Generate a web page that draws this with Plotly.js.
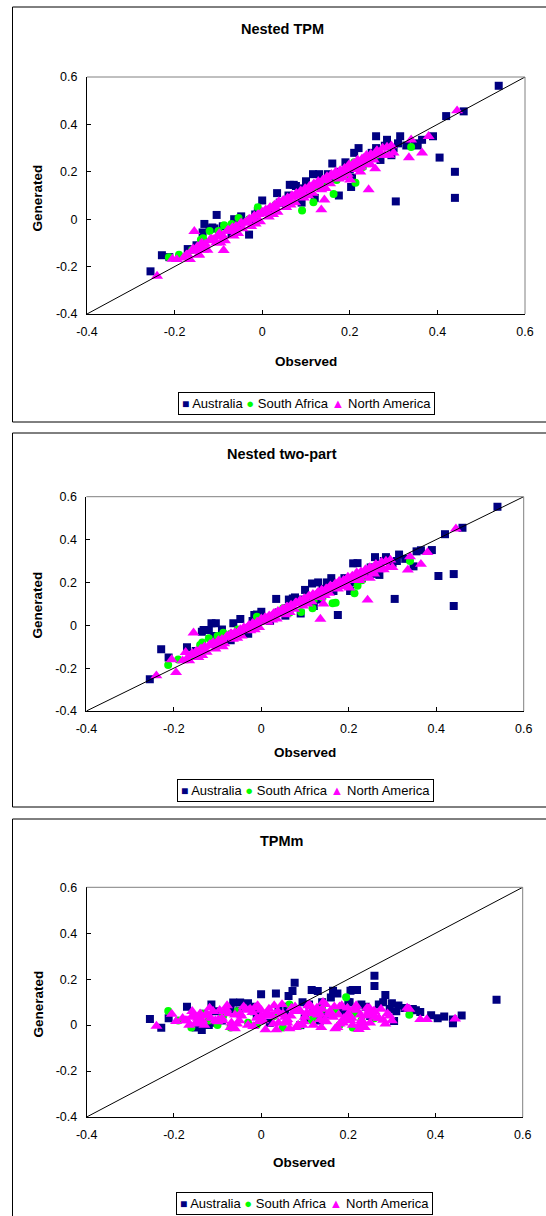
<!DOCTYPE html>
<html><head><meta charset="utf-8">
<script src="https://cdn.plot.ly/plotly-3.0.1.min.js"></script>
<style>html,body{margin:0;padding:0;background:#fff}#chart{width:546px;height:1216px}</style>
</head><body><div id="chart"></div>
<script>
const panelTitles = ["Nested TPM", "Nested two-part", "TPMm"];
const seriesNames = ["Australia", "South Africa", "North America"];
const xAxisTitle = "Observed";
const yAxisTitle = "Generated";
const tickVals = [-0.4, -0.2, 0, 0.2, 0.4, 0.6];
const tickText = ["-0.4", "-0.2", "0", "0.2", "0.4", "0.6"];
const diagonal = [-0.4, 0.6];

// Australia
const obsAustralia = [0.54,0.46,0.44,0.44,0.42,0.405,0.39,0.365,0.355,0.348,0.329,0.315,0.305,0.285,0.295,0.26,0.26,0.27,0.28,0.22,0.21,0.203,0.175,0.19,0.16,0.15,0.13,0.116,0.12,0.10,0.09,0.077,0.072,0.063,0.055,0.034,0.02,0.0,-0.01,-0.03,-0.016,-0.048,-0.064,-0.07,-0.09,-0.104,-0.114,-0.12,-0.132,-0.136,-0.109,-0.17,-0.212,-0.229,-0.255,-0.15,0.24,0.25,0.20,0.18,0.14,0.11,0.04,-0.02,-0.05,0.06,0.095,0.135,0.30,0.31,0.23,0.165,0.205];
const genAustraliaTPM = [0.563,0.455,0.20,0.09,0.435,0.26,0.35,0.335,0.311,0.32,0.311,0.35,0.075,0.335,0.27,0.35,0.30,0.25,0.31,0.30,0.28,0.136,0.10,0.24,0.235,0.19,0.19,0.19,0.09,0.16,0.07,0.14,0.145,0.145,0.06,0.11,0.04,0.079,0.03,-0.065,0.02,0.012,0.0,-0.06,-0.03,0.018,-0.035,-0.04,-0.02,-0.056,-0.039,-0.126,-0.16,-0.152,-0.22,-0.11,0.26,0.28,0.21,0.20,0.16,0.12,0.07,0.0,-0.02,0.10,0.13,0.14,0.30,0.32,0.24,0.17,0.175];
const genAustraliaTwoPart = [0.553,0.455,0.239,0.09,0.425,0.23,0.351,0.35,0.345,0.275,0.31,0.33,0.123,0.318,0.28,0.318,0.24,0.235,0.30,0.29,0.289,0.16,0.048,0.22,0.22,0.20,0.20,0.195,0.09,0.165,0.055,0.13,0.125,0.12,0.045,0.123,0.02,0.063,0.05,-0.04,0.048,0.029,0.01,-0.07,-0.02,0.01,0.009,-0.022,-0.022,-0.03,-0.05,-0.103,-0.15,-0.112,-0.252,-0.12,0.24,0.27,0.20,0.19,0.17,0.13,0.06,0.02,-0.04,0.08,0.12,0.12,0.29,0.30,0.22,0.16,0.20];
const genAustraliaTPMm = [0.11,0.042,0.008,0.025,0.037,0.03,0.043,0.057,0.065,0.07,0.075,0.085,0.018,0.131,0.07,0.215,0.17,0.09,0.10,0.153,0.153,0.10,0.138,0.06,0.12,0.05,0.148,0.153,0.06,0.03,0.0,0.185,0.148,0.127,0.05,0.138,0.01,0.134,0.04,0.095,0.06,0.098,0.098,0.07,0.02,0.06,0.09,0.0,0.05,-0.021,0.01,0.08,0.03,-0.011,0.027,-0.01,0.08,0.04,0.10,0.07,0.10,0.09,0.07,0.08,0.06,0.08,0.10,0.02,0.095,0.06,0.09,0.15,0.15];

// South Africa
const obsSouthAfrica = [-0.213,-0.14,-0.135,-0.12,-0.087,-0.054,-0.1,-0.16,-0.03,0.0,0.03,0.065,0.091,0.117,0.14,0.163,0.17,0.195,0.213,0.22,0.23,0.26,0.34,0.05,-0.07,-0.19,0.12,0.18,-0.01,0.21];
const genSouthAfricaTPM = [-0.161,-0.087,-0.08,-0.05,-0.026,0.005,-0.05,-0.13,0.0,0.03,0.06,0.07,0.037,0.072,0.15,0.106,0.165,0.18,0.154,0.23,0.22,0.27,0.305,0.07,-0.02,-0.15,0.14,0.20,0.05,0.24];
const genSouthAfricaTwoPart = [-0.185,-0.092,-0.08,-0.06,-0.035,-0.02,-0.05,-0.14,-0.01,0.02,0.05,0.06,0.062,0.08,0.13,0.103,0.105,0.19,0.149,0.185,0.21,0.26,0.30,0.08,-0.04,-0.16,0.12,0.19,0.04,0.22];
const genSouthAfricaTPMm = [0.061,0.03,0.05,0.02,0.04,0.06,0.0,-0.01,0.01,0.03,0.04,0.09,0.0,0.02,0.07,0.05,0.065,0.121,0.05,0.055,0.02,0.03,0.045,-0.01,-0.01,0.02,0.04,0.0,0.0,-0.01];

// North America
const obsNorthAmerica = [-0.17,-0.16,-0.15,-0.14,-0.13,-0.12,-0.11,-0.1,-0.09,-0.08,-0.07,-0.06,-0.05,-0.04,-0.03,-0.02,-0.01,0,0.01,0.02,0.03,0.04,0.05,0.06,0.07,0.08,0.09,0.1,0.11,0.12,0.13,0.14,0.15,0.16,0.17,0.18,0.19,0.2,0.21,0.22,0.23,0.24,0.25,0.26,0.27,
 -0.165,-0.145,-0.125,-0.105,-0.085,-0.065,-0.045,-0.025,-0.005,0.015,0.035,0.055,0.075,0.095,0.115,0.135,0.155,0.175,0.195,0.215,0.235,0.255,-0.135,-0.095,-0.055,-0.015,0.025,0.065,0.105,0.145,0.185,0.225,
 0.445,0.38,0.365,0.335,0.34,0.243,0.258,0.201,0.135,0.142,-0.155,-0.088,-0.24,-0.205,-0.195,-0.18,-0.144,-0.173,0.224,0.248,0.28,0.30,0.29,0.27,
 -0.115,-0.075,-0.035,0.005,0.045,0.085,0.125,0.165,0.205,0.245,-0.06,0.0,0.06,0.12,0.18,
 -0.158,-0.148,-0.138,-0.118,-0.098,-0.078,-0.068,-0.048,-0.028,-0.018,-0.008,0.008,0.018,0.028,0.038,0.048,0.058,0.068,0.078,0.088,0.098,0.108,0.118,0.128,0.138,0.148,0.158,0.168,0.178,0.188,0.198,0.208,0.218,0.228,0.238,0.248,0.262,0.275,0.285,0.295];
const genNorthAmericaTPM = [-0.15,-0.135,-0.13,-0.11,-0.105,-0.09,-0.085,-0.075,-0.07,-0.05,-0.045,-0.04,-0.02,-0.015,0.0,0.005,0.02,0.025,0.03,0.045,0.05,0.065,0.07,0.08,0.095,0.1,0.11,0.125,0.13,0.145,0.15,0.165,0.165,0.18,0.19,0.2,0.21,0.215,0.23,0.235,0.245,0.255,0.26,0.27,0.28,
 -0.17,-0.15,-0.13,-0.1,-0.09,-0.07,-0.04,-0.03,-0.01,0.01,0.03,0.05,0.07,0.09,0.11,0.125,0.15,0.17,0.19,0.21,0.23,0.25,-0.13,-0.1,-0.06,-0.02,0.02,0.06,0.1,0.13,0.175,0.22,
 0.458,0.35,0.28,0.26,0.335,0.125,0.213,0.166,0.04,0.082,-0.051,-0.131,-0.24,-0.168,-0.17,-0.163,-0.15,-0.15,0.20,0.23,0.27,0.28,0.27,0.27,
 -0.085,-0.05,-0.01,0.03,0.07,0.105,0.145,0.18,0.22,0.255,-0.03,0.03,0.085,0.14,0.2,
 -0.125,-0.115,-0.1,-0.085,-0.06,-0.045,-0.035,-0.015,0.0,0.015,0.02,0.04,0.05,0.06,0.075,0.08,0.09,0.1,0.11,0.12,0.13,0.14,0.15,0.16,0.165,0.18,0.19,0.2,0.205,0.215,0.23,0.235,0.25,0.255,0.27,0.275,0.29,0.3,0.305,0.31];
const genNorthAmericaTwoPart = [-0.155,-0.14,-0.125,-0.115,-0.1,-0.095,-0.08,-0.08,-0.065,-0.055,-0.04,-0.035,-0.025,-0.01,-0.005,0.01,0.015,0.03,0.035,0.04,0.055,0.06,0.075,0.085,0.09,0.105,0.115,0.12,0.135,0.14,0.155,0.16,0.17,0.175,0.195,0.195,0.205,0.22,0.225,0.24,0.24,0.25,0.265,0.265,0.275,
 -0.165,-0.15,-0.125,-0.11,-0.085,-0.065,-0.05,-0.025,-0.01,0.015,0.03,0.05,0.075,0.09,0.11,0.13,0.15,0.17,0.19,0.21,0.23,0.25,-0.14,-0.095,-0.06,-0.02,0.025,0.06,0.1,0.14,0.18,0.22,
 0.45,0.34,0.285,0.258,0.32,0.118,0.24,0.175,0.029,0.10,-0.035,-0.10,-0.235,-0.16,-0.22,-0.165,-0.15,-0.126,0.21,0.22,0.26,0.27,0.27,0.26,
 -0.09,-0.055,-0.015,0.025,0.065,0.1,0.14,0.18,0.215,0.25,-0.035,0.025,0.08,0.135,0.195,
 -0.13,-0.12,-0.11,-0.09,-0.07,-0.05,-0.04,-0.02,0.0,0.005,0.015,0.035,0.045,0.055,0.065,0.075,0.085,0.095,0.105,0.115,0.125,0.135,0.145,0.15,0.165,0.17,0.185,0.19,0.205,0.21,0.225,0.23,0.245,0.25,0.26,0.27,0.285,0.295,0.3,0.305];
const genNorthAmericaTPMm = [0.02,0.035,0.01,0.05,0.0,0.04,0.06,0.015,0.03,0.07,-0.01,0.045,0.02,0.08,0.0,0.055,0.03,0.065,-0.02,0.04,0.085,0.01,0.05,0.025,0.075,-0.01,0.06,0.035,0.09,0.0,0.045,0.07,0.015,0.055,-0.015,0.08,0.03,0.05,0.0,0.065,0.02,0.04,0.01,0.06,0.03,
 0.0,0.03,0.05,0.02,0.06,-0.005,0.04,0.07,0.015,0.05,-0.02,0.035,0.06,0.0,0.08,0.025,0.045,-0.01,0.03,0.07,0.01,0.05,0.02,0.065,0.005,0.075,0.04,-0.015,0.055,0.02,0.085,0.0,
 0.027,0.025,0.025,0.075,0.07,0.075,0.06,0.03,0.05,0.10,0.04,0.02,-0.004,0.048,0.016,0.03,0.01,0.02,-0.018,0.075,0.022,0.02,0.05,0.03,
 0.03,0.05,0.07,0.02,0.045,0.0,0.06,0.035,0.02,0.045,-0.015,0.04,0.01,0.065,0.005,
 0.06,0.005,0.045,0.075,0.025,0.085,0.01,0.05,0.065,-0.005,0.085,0.045,0.07,0.005,0.06,0.09,0.02,0.04,0.08,0.065,0.015,0.085,0.05,0.075,-0.01,0.09,0.06,0.08,0.045,0.01,0.075,0.03,0.085,0.045,-0.01,0.065,0.035,0.07,0.005,0.04];

const generated = [
  [genAustraliaTPM, genSouthAfricaTPM, genNorthAmericaTPM],
  [genAustraliaTwoPart, genSouthAfricaTwoPart, genNorthAmericaTwoPart],
  [genAustraliaTPMm, genSouthAfricaTPMm, genNorthAmericaTPMm]
];
const observed = [obsAustralia, obsSouthAfrica, obsNorthAmerica];

// layout geometry (pixels)
const W = 546, H = 1216;
const geom = [
  {l: 87, r: 525, t: 77, b: 314, boxT: 7, boxB: 422, titleY: 29, obsY: 361, obsX: 306, genY: 198, legY: 403, legX: 306},
  {l: 86.4, r: 523.7, t: 496.7, b: 711, boxT: 433, boxB: 807, titleY: 454, obsY: 752, obsX: 305, genY: 605, legY: 791, legX: 305},
  {l: 86.7, r: 522.7, t: 887.3, b: 1117, boxT: 819, boxB: 1230, titleY: 841, obsY: 1162, obsX: 304, genY: 1004, legY: 1203, legX: 304}
];
const px = v => v / W, py = v => 1 - v / H;
const FONT = "Liberation Sans, Arial, Helvetica, sans-serif";
const styles = [
  {symbol: "square", size: 8, color: "#000080", glyph: "\u25A0", gsize: 12},
  {symbol: "circle", size: 8, color: "#00FF00", glyph: "\u25CF", gsize: 13},
  {symbol: "triangle-up", size: 10.5, color: "#FF00FF", glyph: "\u25B2", gsize: 13}
];

const traces = [];
const layout = {
  width: W, height: H, margin: {l: 0, r: 0, t: 0, b: 0},
  paper_bgcolor: "#fff", plot_bgcolor: "#fff", showlegend: false,
  font: {family: FONT, color: "#000"}, shapes: [], annotations: []
};

geom.forEach((g, i) => {
  const n = i === 0 ? "" : String(i + 1);
  const xa = "x" + n, ya = "y" + n;
  seriesNames.forEach((name, s) => {
    traces.push({
      type: "scatter", mode: "markers", name: name,
      x: observed[s], y: generated[i][s], xaxis: xa, yaxis: ya,
      marker: {symbol: styles[s].symbol, size: styles[s].size, color: styles[s].color, line: {width: 0}},
      hoverinfo: "x+y+name"
    });
  });
  traces.push({type: "scatter", mode: "lines", x: diagonal, y: diagonal, xaxis: xa, yaxis: ya,
    line: {color: "#000", width: 1}, hoverinfo: "skip"});
  const axBase = {
    range: [-0.4, 0.6], tickmode: "array", tickvals: tickVals, ticktext: tickText,
    ticks: "inside", ticklen: 4, tickwidth: 1, tickcolor: "#000",
    showline: true, linecolor: "#000", linewidth: 1, showgrid: false, zeroline: false,
    tickfont: {family: FONT, size: 12.5, color: "#000"}, fixedrange: true
  };
  layout["xaxis" + n] = Object.assign({}, axBase, {domain: [px(g.l), px(g.r)], anchor: ya, ticklabelstandoff: 6});
  layout["yaxis" + n] = Object.assign({}, axBase, {domain: [py(g.b), py(g.t)], anchor: xa, ticklabelstandoff: 6});
  layout.shapes.push({type: "line", xref: xa + " domain", yref: ya + " domain", x0: 0, x1: 1, y0: 1, y1: 1, line: {color: "#808080", width: 1}});
  layout.shapes.push({type: "line", xref: xa + " domain", yref: ya + " domain", x0: 1, x1: 1, y0: 0, y1: 1, line: {color: "#808080", width: 1}});
  layout.shapes.push({type: "rect", xref: "paper", yref: "paper", x0: px(12.5), x1: px(600), y0: py(g.boxB), y1: py(g.boxT), line: {color: "#000", width: 1}, layer: "below"});
  layout.annotations.push({xref: "paper", yref: "paper", x: px(282), y: py(g.titleY), xanchor: "center", yanchor: "middle", showarrow: false,
    text: "<b>" + panelTitles[i] + "</b>", font: {family: FONT, size: 14.5, color: "#000"}});
  layout.annotations.push({xref: "paper", yref: "paper", x: px(g.obsX), y: py(g.obsY), xanchor: "center", yanchor: "middle", showarrow: false,
    text: "<b>" + xAxisTitle + "</b>", font: {family: FONT, size: 13.5, color: "#000"}});
  layout.annotations.push({xref: "paper", yref: "paper", x: px(37.5), y: py(g.genY), xanchor: "center", yanchor: "middle", showarrow: false, textangle: -90,
    text: "<b>" + yAxisTitle + "</b>", font: {family: FONT, size: 13.5, color: "#000"}});
  const legText = styles.map((st, s) =>
    '<span style="color:' + st.color + ';font-size:' + st.gsize + 'px">' + st.glyph + '</span> ' + seriesNames[s]
  ).join(" ");
  layout.annotations.push({xref: "paper", yref: "paper", x: px(g.legX), y: py(g.legY), xanchor: "center", yanchor: "middle", showarrow: false,
    text: legText, font: {family: FONT, size: 13, color: "#000"}, bordercolor: "#000", borderwidth: 1, borderpad: 3, bgcolor: "#fff"});
});

Plotly.newPlot("chart", traces, layout, {staticPlot: true, displayModeBar: false});
</script></body></html>
